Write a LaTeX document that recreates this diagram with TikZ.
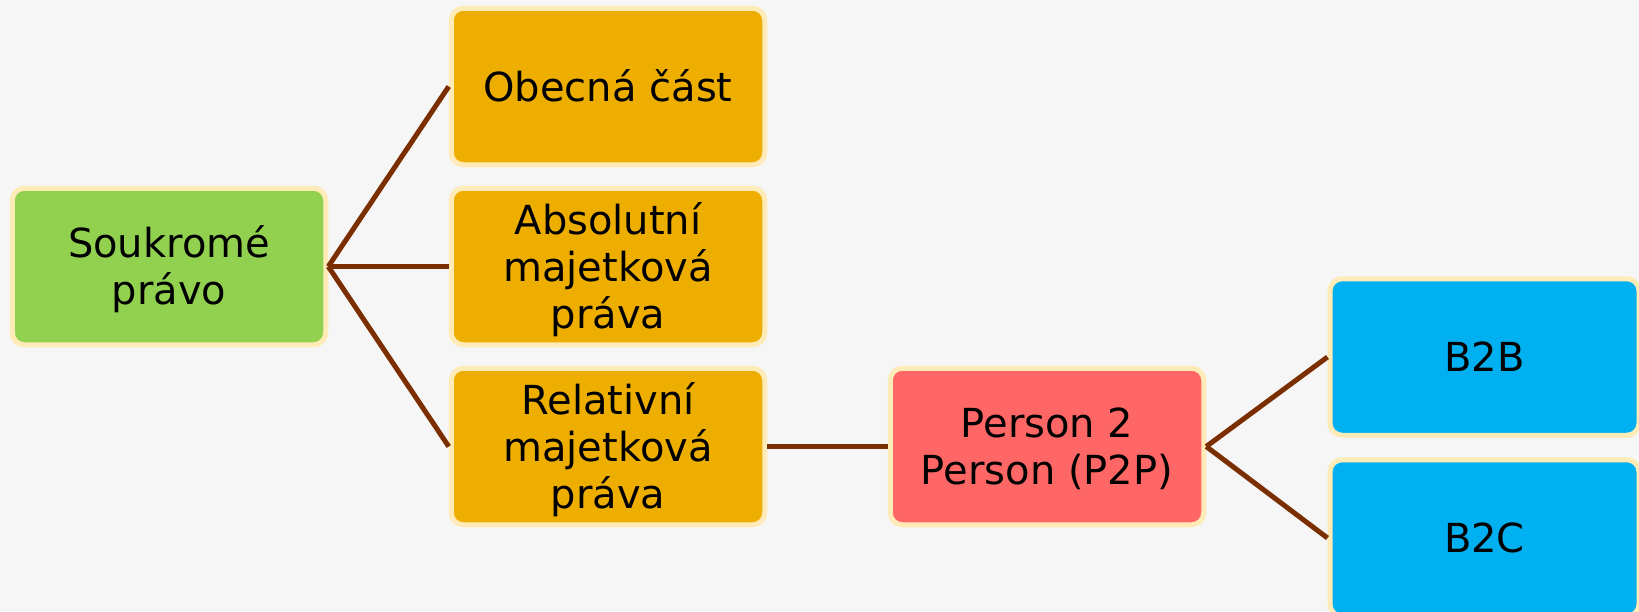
\documentclass[tikz,border=0pt]{standalone}
\usepackage{fontspec}
\setmainfont{DejaVu Sans}
\definecolor{bgc}{HTML}{F6F6F6}
\definecolor{greenc}{HTML}{92D050}
\definecolor{orangec}{HTML}{EDAE00}
\definecolor{redc}{HTML}{FF6666}
\definecolor{bluec}{HTML}{00B0F0}
\definecolor{boxedge}{HTML}{FFEBB8}
\definecolor{linkc}{HTML}{7B2F00}
\begin{document}
\begin{tikzpicture}[x=1pt,y=-1pt,
  box/.style={draw=boxedge, line width=5pt, rounded corners=12pt,
    minimum width=313.5pt, minimum height=156.5pt, inner sep=0pt,
    align=center, font=\fontsize{40}{47}\selectfont, text height=29pt, text depth=0pt},
  two/.style={text height=76pt},
  three/.style={text height=123pt},
  link/.style={draw=linkc, line width=5pt}]
\fill[bgc] (0,0) rectangle (1639,611);
\useasboundingbox (0,0) rectangle (1639,611);
\node[box, two, fill=greenc] (g) at (169,266.5) {Soukromé\\právo};
\node[box, fill=orangec] (o1) at (608,86.5) {Obecná část};
\node[box, three, fill=orangec] (o2) at (608,266.5) {Absolutní\\majetková\\práva};
\node[box, three, fill=orangec] (o3) at (608,446.5) {Relativní\\majetková\\práva};
\node[box, two, fill=redc] (p) at (1047,446.5) {Person 2\\Person (P2P)};
\node[box, fill=bluec, minimum width=309pt] (b1) at (1484.5,357) {B2B};
\node[box, fill=bluec, minimum width=309pt] (b2) at (1484.5,538) {B2C};
\draw[link] (g.east) -- (o1.west);
\draw[link] (g.east) -- (o2.west);
\draw[link] (g.east) -- (o3.west);
\draw[link] (o3.east) -- (p.west);
\draw[link] (p.east) -- (b1.west);
\draw[link] (p.east) -- (b2.west);
\end{tikzpicture}
\end{document}
